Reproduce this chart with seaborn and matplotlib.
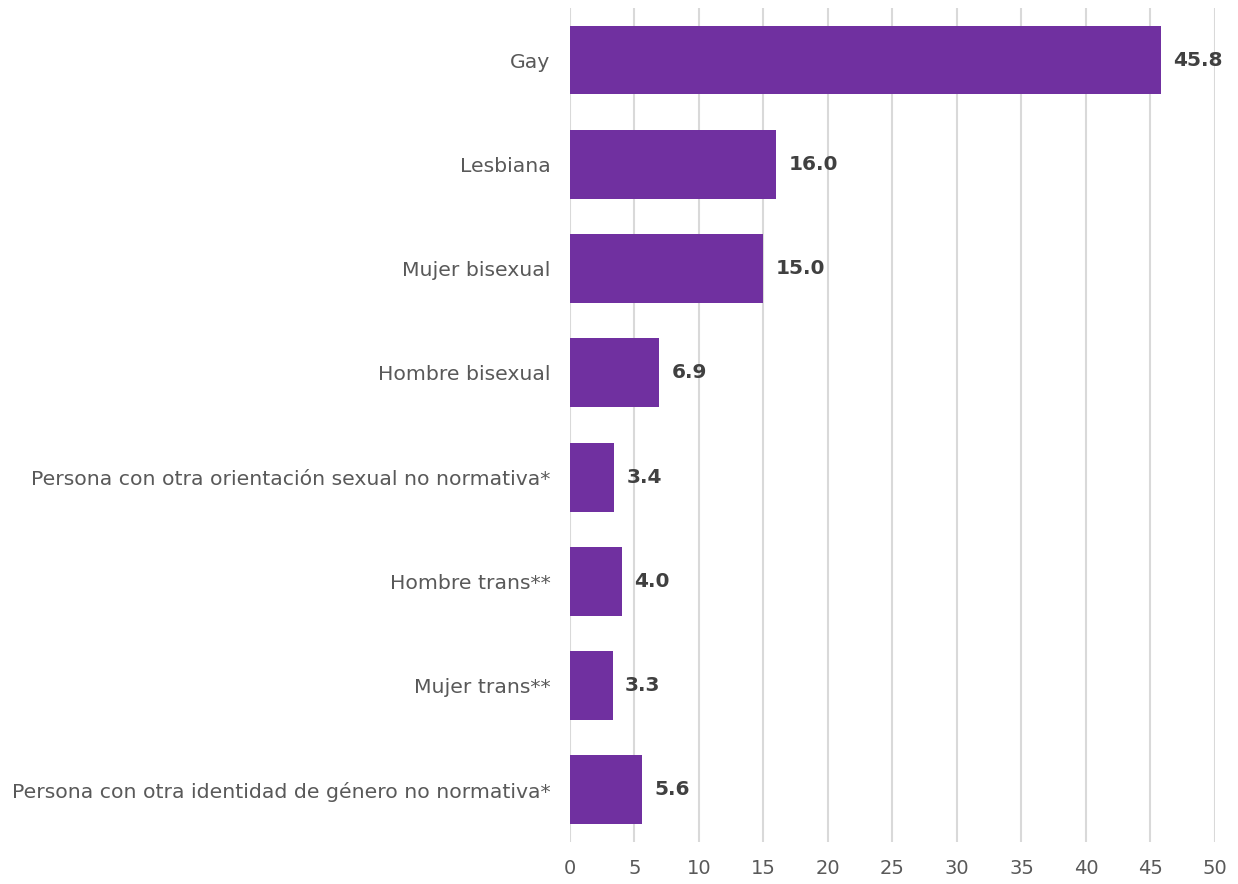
import seaborn as sns
import matplotlib.pyplot as plt
import pandas as pd

categories = [
    "Gay",
    "Lesbiana",
    "Mujer bisexual",
    "Hombre bisexual",
    "Persona con otra orientación sexual no normativa*",
    "Hombre trans**",
    "Mujer trans**",
    "Persona con otra identidad de género no normativa*",
]
values = [45.8, 16.0, 15.0, 6.9, 3.4, 4.0, 3.3, 5.6]
x_ticks = [0, 5, 10, 15, 20, 25, 30, 35, 40, 45, 50]

sns.set_theme(style="white")
plt.rcParams["font.family"] = ["DejaVu Sans"]

df = pd.DataFrame({"categoria": categories, "valor": values})

fig = plt.figure(figsize=(12.38, 8.84), dpi=100)
ax = fig.add_axes([0.4604, 0.0475, 0.521, 0.9435])

sns.barplot(ax=ax, data=df, x="valor", y="categoria", orient="h",
            color="#7030A0", saturation=1, width=0.66, linewidth=0, zorder=3)

ax.set_xlim(0, 50)
ax.set_ylim(7.5, -0.5)
ax.set_xticks(x_ticks)
ax.xaxis.grid(True, color="#D9D9D9", linewidth=1.5, zorder=0)
ax.yaxis.grid(False)
ax.set_axisbelow(True)
for s in ax.spines.values():
    s.set_visible(False)

ax.tick_params(axis="x", length=0, pad=12, labelsize=14, labelcolor="#595959")
ax.tick_params(axis="y", length=0, pad=14, labelsize=14.7, labelcolor="#595959")
ax.set_xlabel("")
ax.set_ylabel("")

ax.bar_label(ax.containers[0], labels=[f"{v:.1f}" for v in values], padding=9,
             fontsize=14.5, fontweight="bold", color="#404040")

plt.savefig("out.png", dpi=100)
